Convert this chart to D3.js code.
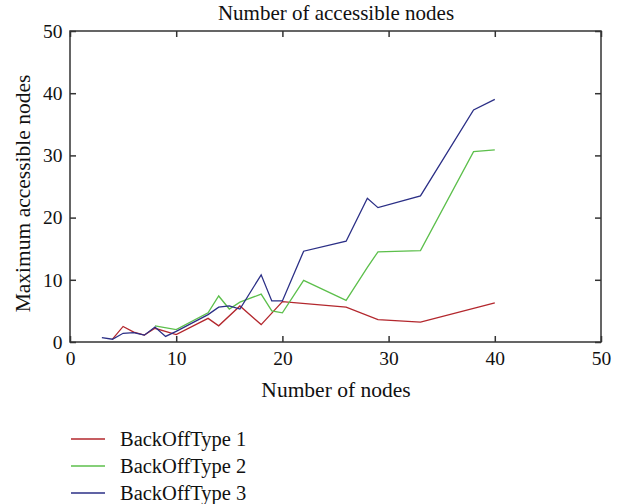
<!DOCTYPE html>
<html><head><meta charset="utf-8">
<script src="https://cdn.jsdelivr.net/npm/d3@7"></script>
<style>body{margin:0;background:#fff;} text{font-family:"Liberation Serif","DejaVu Serif",serif;fill:#111;}</style>
</head><body><svg id="c" width="620" height="504"></svg>
<script>
const seriesNames = ["BackOffType 1","BackOffType 2","BackOffType 3"];
const colors = ["#b3272d","#5cbf4b","#2b2f86"];
const x1 = [4,5,6,7,8,10,13,14,16,18,20,26,29,33,40];
const y1 = [0.45,2.5,1.6,1.1,2.2,1.2,3.8,2.6,5.8,2.8,6.5,5.6,3.6,3.2,6.3];
const x2 = [8,10,13,14,15,16,18,19,20,22,26,28,29,33,38,40];
const y2 = [2.6,2.0,4.7,7.4,5.3,6.4,7.7,5.0,4.7,9.9,6.7,12.0,14.5,14.7,30.6,30.9];
const x3 = [3,4,5,6,7,8,9,10,13,14,15,16,18,19,20,22,26,28,29,33,38,40];
const y3 = [0.7,0.45,1.4,1.5,1.1,2.4,0.9,1.7,4.4,5.6,5.8,5.3,10.8,6.6,6.6,14.6,16.2,23.1,21.6,23.5,37.3,39.0];
const xTicks = [0,10,20,30,40,50];
const yTicks = [0,10,20,30,40,50];

const svg = d3.select("#c");
const L=70,R=601,T=31,B=342;
const x = d3.scaleLinear().domain([0,50]).range([L,R]);
const y = d3.scaleLinear().domain([0,50]).range([B,T]);
const ax = "#333";

svg.append("rect").attr("x",L).attr("y",T).attr("width",R-L).attr("height",B-T)
  .attr("fill","none").attr("stroke",ax).attr("stroke-width",1.5);

const tl=6;
const gBottom = svg.append("g").attr("transform",`translate(0,${B})`)
  .call(d3.axisBottom(x).tickValues(xTicks).tickSizeInner(-tl).tickSizeOuter(0).tickPadding(9));
const gTop = svg.append("g").attr("transform",`translate(0,${T})`)
  .call(d3.axisTop(x).tickValues(xTicks).tickSizeInner(-tl).tickSizeOuter(0).tickFormat(""));
const gLeft = svg.append("g").attr("transform",`translate(${L},0)`)
  .call(d3.axisLeft(y).tickValues(yTicks).tickSizeInner(-tl).tickSizeOuter(0).tickPadding(7.5));
const gRight = svg.append("g").attr("transform",`translate(${R},0)`)
  .call(d3.axisRight(y).tickValues(yTicks).tickSizeInner(-tl).tickSizeOuter(0).tickFormat(""));
[gBottom,gTop,gLeft,gRight].forEach(g=>{
  g.select(".domain").remove();
  g.selectAll("line").attr("stroke",ax).attr("stroke-width",1.5);
  g.selectAll("text").attr("font-family","Liberation Serif, serif").attr("font-size",19.5).attr("fill","#111");
});
gBottom.selectAll("text").attr("y",9);

const data = [[x1,y1],[x2,y2],[x3,y3]];
const line = d3.line().x(d=>x(d[0])).y(d=>y(d[1]));
data.forEach(([xs,ys],i)=>{
  svg.append("path").datum(xs.map((v,j)=>[v,ys[j]]))
    .attr("d",line).attr("fill","none").attr("stroke",colors[i]).attr("stroke-width",1.3);
});

svg.append("text").attr("x",336).attr("y",20).attr("text-anchor","middle").attr("font-size",21).text("Number of accessible nodes");
svg.append("text").attr("x",336).attr("y",397).attr("text-anchor","middle").attr("font-size",21.5).text("Number of nodes");
svg.append("text").attr("transform","translate(30,193.5) rotate(-90)").attr("text-anchor","middle").attr("font-size",21.5).text("Maximum accessible nodes");

seriesNames.forEach((n,i)=>{
  const ly = 439 + i*27;
  svg.append("line").attr("x1",71).attr("x2",105).attr("y1",ly).attr("y2",ly).attr("stroke",colors[i]).attr("stroke-width",1.3);
  svg.append("text").attr("x",120).attr("y",ly+6.5).attr("font-size",20.5).text(n);
});
</script></body></html>
